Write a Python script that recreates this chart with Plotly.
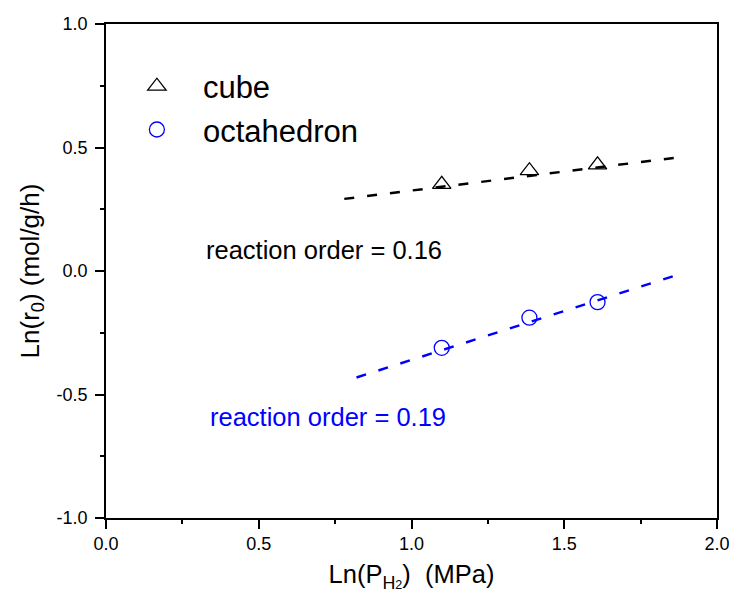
import plotly.graph_objects as go

# Data
ln_pressure = [1.099, 1.386, 1.609]
cube_ln_r0 = [0.351, 0.406, 0.430]
octa_ln_r0 = [-0.311, -0.189, -0.126]

cube_fit_x = [0.78, 1.88]
cube_fit_y = [0.292, 0.461]
octa_fit_x = [0.82, 1.877]
octa_fit_y = [-0.431, -0.013]

cube_order_label = "reaction order = 0.16"
octa_order_label = "reaction order = 0.19"

x_tick_vals = [0.0, 0.5, 1.0, 1.5, 2.0]
x_tick_text = ["0.0", "0.5", "1.0", "1.5", "2.0"]
y_tick_vals = [-1.0, -0.5, 0.0, 0.5, 1.0]
y_tick_text = ["-1.0", "-0.5", "0.0", "0.5", "1.0"]

FONT = "Arial, Liberation Sans, sans-serif"
BLUE = "#0000FF"

fig = go.Figure()

fig.add_trace(go.Scatter(x=cube_fit_x, y=cube_fit_y, mode="lines",
                         line=dict(color="black", width=2.5, dash="10px,13px"),
                         showlegend=False, hoverinfo="skip"))
fig.add_trace(go.Scatter(x=octa_fit_x, y=octa_fit_y, mode="lines",
                         line=dict(color=BLUE, width=2.5, dash="10px,13px"),
                         showlegend=False, hoverinfo="skip"))

fig.add_trace(go.Scatter(x=ln_pressure, y=cube_ln_r0, mode="markers", name="cube",
                         marker=dict(symbol="triangle-up-open", size=16, color="black",
                                     line=dict(width=1.3, color="black"))))
fig.add_trace(go.Scatter(x=ln_pressure, y=octa_ln_r0, mode="markers", name="octahedron",
                         marker=dict(symbol="circle-open", size=15, color=BLUE,
                                     line=dict(width=1.3, color=BLUE))))

fig.add_annotation(x=0.32, y=0.085, xref="x", yref="y", text=cube_order_label,
                   showarrow=False, xanchor="left", yanchor="middle",
                   font=dict(family=FONT, size=25.5, color="black"))
fig.add_annotation(x=0.333, y=-0.592, xref="x", yref="y", text=octa_order_label,
                   showarrow=False, xanchor="left", yanchor="middle",
                   font=dict(family=FONT, size=25.5, color=BLUE))

axis_common = dict(
    showline=True, linecolor="black", linewidth=1.5, mirror=True,
    ticks="outside", ticklen=9, tickwidth=1.5, tickcolor="black",
    showgrid=False, zeroline=False, automargin=False,
    tickfont=dict(family=FONT, size=18, color="black"),
)

fig.update_xaxes(range=[0, 2.0], tickmode="array", tickvals=x_tick_vals, ticktext=x_tick_text,
                 minor=dict(ticks="outside", ticklen=4.5, tickwidth=1.5, tickcolor="black", dtick=0.25, tick0=0),
                 title=dict(text="Ln(P<sub>H<span style='font-size:70%'>2</span></sub>)&nbsp; (MPa)",
                            font=dict(family=FONT, size=25.5, color="black"), standoff=12),
                 **axis_common)
fig.update_yaxes(range=[-1.0, 1.0], tickmode="array", tickvals=y_tick_vals, ticktext=y_tick_text,
                 minor=dict(ticks="outside", ticklen=4.5, tickwidth=1.5, tickcolor="black", dtick=0.25, tick0=0),
                 title=dict(text="Ln(r<sub>0</sub>) (mol/g/h)", font=dict(family=FONT, size=26, color="black"), standoff=10),
                 ticklabelstandoff=4,
                 **axis_common)

fig.update_layout(
    width=737, height=603,
    margin=dict(l=97.5, r=27.5, t=16.3, b=93.3),
    plot_bgcolor="white", paper_bgcolor="white",
    font=dict(family=FONT, color="black"),
    legend=dict(x=0.008, y=0.928, xanchor="left", yanchor="top",
                bgcolor="rgba(0,0,0,0)", borderwidth=0,
                font=dict(family=FONT, size=31, color="black"),
                itemwidth=82, tracegroupgap=0),
)

fig.write_html("out.html")
